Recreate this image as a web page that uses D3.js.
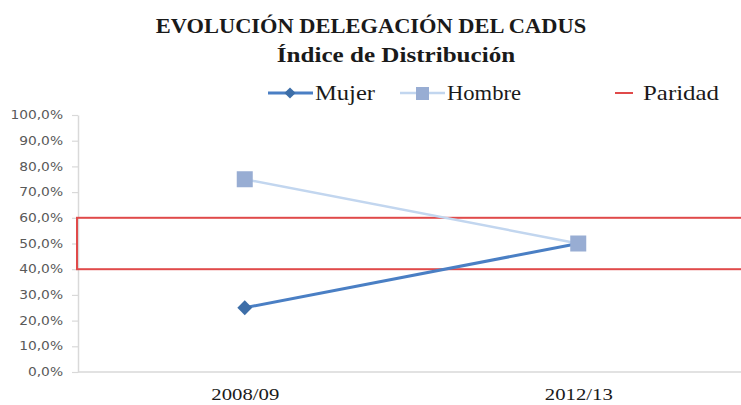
<!DOCTYPE html>
<html>
<head>
<meta charset="utf-8">
<script src="https://cdn.jsdelivr.net/npm/d3@7"></script>
<style>
  body { margin: 0; background: #fff; }
  svg { display: block; }
</style>
</head>
<body>
<div id="chart"></div>
<script>
// Chart data
const categories = ["2008/09", "2012/13"];
const mujer = [0.25, 0.50];
const hombre = [0.75, 0.50];
const paridad = [0.40, 0.60];
const yTicks = [0, 0.1, 0.2, 0.3, 0.4, 0.5, 0.6, 0.7, 0.8, 0.9, 1.0];
const titleLines = ["EVOLUCIÓN DELEGACIÓN DEL CADUS", "Índice de Distribución"];

const width = 741, height = 405;
const margin = { top: 115, right: -4, bottom: 33, left: 78 };
const serif = '"Liberation Serif", "Times New Roman", serif';

const svg = d3.select('#chart').append('svg')
    .attr('width', width)
    .attr('height', height);

// the reference picture is stretched horizontally, so widen the glyphs a bit
function stretch(sel, factor) {
    sel.each(function () {
        const w = this.getComputedTextLength();
        d3.select(this).attr('textLength', w * factor).attr('lengthAdjust', 'spacingAndGlyphs');
    });
}

const x = d3.scalePoint()
    .domain(categories)
    .range([margin.left, width - margin.right])
    .padding(0.5);

const y = d3.scaleLinear()
    .domain([0, 1])
    .range([height - margin.bottom, margin.top]);

const fmt = d => d3.format('.1f')(d * 100).replace('.', ',') + '%';

// Title
const titleX = [371, 396];
const titleY = [33, 62];
const titleStretch = [1.02, 1.14];
svg.selectAll('.title')
    .data(titleLines)
    .enter()
    .append('text')
    .attr('x', (d, i) => titleX[i])
    .attr('y', (d, i) => titleY[i])
    .attr('text-anchor', 'middle')
    .style('font-family', serif)
    .style('font-weight', 'bold')
    .style('font-size', '22px')
    .attr('fill', '#1a1a1a')
    .text(d => d)
    .each(function (d, i) { stretch(d3.select(this), titleStretch[i]); });

// Y axis
const yAxis = svg.append('g')
    .attr('transform', `translate(${margin.left},0)`)
    .call(d3.axisLeft(y).tickValues(yTicks).tickFormat(fmt).tickSize(6).tickSizeOuter(0));
yAxis.select('.domain').attr('stroke', '#d9d9d9').attr('stroke-width', 1.5);
yAxis.selectAll('.tick line').attr('stroke', '#d9d9d9').attr('stroke-width', 1.2);
const yLabels = yAxis.selectAll('.tick text')
    .attr('x', -15)
    .style('font-family', '"DejaVu Sans", sans-serif')
    .style('font-size', '11.5px')
    .attr('fill', '#595959');
stretch(yLabels, 1.2);

// X axis
const xAxis = svg.append('g')
    .attr('transform', `translate(0,${y(0)})`)
    .call(d3.axisBottom(x).tickSize(0).tickSizeOuter(0));
xAxis.select('.domain').attr('stroke', '#d9d9d9').attr('stroke-width', 1.5)
    .attr('d', `M${margin.left},0H${width}`);
const xLabels = xAxis.selectAll('.tick text')
    .attr('dy', '1.45em')
    .style('font-family', serif)
    .style('font-size', '17px')
    .attr('fill', '#1a1a1a');
stretch(xLabels, 1.22);

// Paridad band
svg.append('rect')
    .attr('x', margin.left - 1)
    .attr('y', y(paridad[1]))
    .attr('width', width + 10 - margin.left)
    .attr('height', y(paridad[0]) - y(paridad[1]))
    .attr('fill', 'none')
    .attr('stroke', '#e04a4a')
    .attr('stroke-width', 2);

// Lines
const line = d3.line()
    .x((d, i) => x(categories[i]))
    .y(d => y(d));

svg.append('path')
    .datum(hombre)
    .attr('d', line)
    .attr('fill', 'none')
    .attr('stroke', '#c2d6ef')
    .attr('stroke-width', 2.5);

svg.append('path')
    .datum(mujer)
    .attr('d', line)
    .attr('fill', 'none')
    .attr('stroke', '#4a7fc4')
    .attr('stroke-width', 3);

// Markers (squares sit on top of the diamonds, as in the original)
svg.selectAll('.mujer-pt')
    .data(mujer)
    .enter()
    .append('path')
    .attr('d', d3.symbol(d3.symbolDiamond2, 140))
    .attr('transform', (d, i) => `translate(${x(categories[i])},${y(d)})`)
    .attr('fill', '#3d6ea8');

svg.selectAll('.hombre-pt')
    .data(hombre)
    .enter()
    .append('rect')
    .attr('x', (d, i) => x(categories[i]) - 8)
    .attr('y', d => y(d) - 8)
    .attr('width', 16)
    .attr('height', 16)
    .attr('fill', '#98add3');

// Legend
const legend = svg.append('g')
    .style('font-family', serif)
    .style('font-size', '21px')
    .attr('fill', '#1a1a1a');

legend.append('line').attr('x1', 268).attr('x2', 313).attr('y1', 93).attr('y2', 93)
    .attr('stroke', '#4a7fc4').attr('stroke-width', 3);
legend.append('path').attr('d', d3.symbol(d3.symbolDiamond2, 80))
    .attr('transform', 'translate(290,93)').attr('fill', '#3d6ea8');
legend.append('text').attr('x', 315).attr('y', 100).attr('textLength', 60)
    .attr('lengthAdjust', 'spacingAndGlyphs').text('Mujer');

legend.append('line').attr('x1', 400).attr('x2', 445).attr('y1', 93).attr('y2', 93)
    .attr('stroke', '#c2d6ef').attr('stroke-width', 2.5);
legend.append('rect').attr('x', 416).attr('y', 87).attr('width', 13).attr('height', 13)
    .attr('fill', '#98add3');
legend.append('text').attr('x', 447).attr('y', 100).attr('textLength', 74)
    .attr('lengthAdjust', 'spacingAndGlyphs').text('Hombre');

legend.append('line').attr('x1', 615).attr('x2', 633).attr('y1', 93).attr('y2', 93)
    .attr('stroke', '#e04a4a').attr('stroke-width', 2);
legend.append('text').attr('x', 643).attr('y', 100).attr('textLength', 76)
    .attr('lengthAdjust', 'spacingAndGlyphs').text('Paridad');
</script>
</body>
</html>
